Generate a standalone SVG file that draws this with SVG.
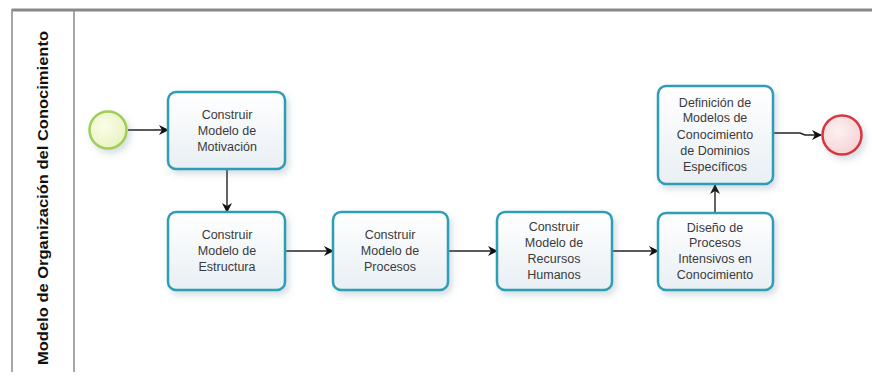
<svg xmlns="http://www.w3.org/2000/svg" width="872" height="376" viewBox="0 0 872 376">
<style>
.task{fill:url(#tg);stroke:#2f9db6;stroke-width:2.5;filter:url(#sh)}
.lbl{font-family:"Liberation Sans",Arial,sans-serif;font-size:12.5px;fill:#3a3a3a;text-anchor:middle}
.conn{stroke:#222;stroke-width:1.4;fill:none;marker-end:url(#ah)}
</style>
<defs>
<linearGradient id="tg" x1="0" y1="0" x2="0" y2="1">
<stop offset="0" stop-color="#ffffff"/>
<stop offset="1" stop-color="#e9eff4"/>
</linearGradient>
<radialGradient id="sg" cx="0.4" cy="0.4" r="0.7">
<stop offset="0" stop-color="#fbfde9"/>
<stop offset="1" stop-color="#e6f2bd"/>
</radialGradient>
<radialGradient id="eg" cx="0.4" cy="0.4" r="0.7">
<stop offset="0" stop-color="#fdf1f1"/>
<stop offset="1" stop-color="#f5d0d3"/>
</radialGradient>
<filter id="sh" x="-20%" y="-20%" width="150%" height="150%">
<feDropShadow dx="3" dy="4" stdDeviation="3" flood-color="#5a7a90" flood-opacity="0.25"/>
</filter>
<marker id="ah" markerWidth="10" markerHeight="10" refX="9" refY="5" orient="auto" markerUnits="userSpaceOnUse">
<path d="M0,0 L10,5 L0,10 L3,5 Z" fill="#111"/>
</marker>
</defs>
<rect width="872" height="376" fill="#ffffff"/>
<g id="pool">
<line x1="12" y1="10" x2="872" y2="10" stroke="#8a8a8a" stroke-width="3"/>
<line x1="12" y1="9" x2="12" y2="372" stroke="#8a8a8a" stroke-width="1.5"/>
<line x1="74" y1="10" x2="74" y2="372" stroke="#8a8a8a" stroke-width="1.5"/>
<text x="48" y="198" transform="rotate(-90 48 198)" font-family="'Liberation Sans',Arial,sans-serif" font-size="15px" font-weight="bold" fill="#111" text-anchor="middle" textLength="334" lengthAdjust="spacingAndGlyphs">Modelo de Organización del Conocimiento</text>
</g>
<g id="connectors">
<line class="conn" x1="128" y1="130" x2="168" y2="130"/>
<line class="conn" x1="227" y1="170" x2="227" y2="212"/>
<line class="conn" x1="286" y1="251" x2="333" y2="251"/>
<line class="conn" x1="449" y1="251" x2="497" y2="251"/>
<line class="conn" x1="613" y1="251" x2="658" y2="251"/>
<line class="conn" x1="715" y1="212" x2="715" y2="185"/>
<polyline class="conn" points="774,133 800,133 805,135 821,135"/>
</g>
<g id="start">
<circle cx="108" cy="130" r="18.5" fill="url(#sg)" stroke="#9fcd55" stroke-width="2.5" filter="url(#sh)"/>
</g>
<g id="t1">
<rect class="task" x="168" y="92" width="117" height="77" rx="8"/>
<text class="lbl" x="227" y="119">Construir</text>
<text class="lbl" x="227" y="135">Modelo de</text>
<text class="lbl" x="227" y="151">Motivación</text>
</g>
<g id="t2">
<rect class="task" x="168" y="212" width="117" height="78" rx="8"/>
<text class="lbl" x="227" y="239">Construir</text>
<text class="lbl" x="227" y="255">Modelo de</text>
<text class="lbl" x="227" y="271">Estructura</text>
</g>
<g id="t3">
<rect class="task" x="333" y="212" width="115" height="78" rx="8"/>
<text class="lbl" x="390" y="239">Construir</text>
<text class="lbl" x="390" y="255">Modelo de</text>
<text class="lbl" x="390" y="271">Procesos</text>
</g>
<g id="t4">
<rect class="task" x="497" y="212" width="115" height="78" rx="8"/>
<text class="lbl" x="554" y="231">Construir</text>
<text class="lbl" x="554" y="247">Modelo de</text>
<text class="lbl" x="554" y="263">Recursos</text>
<text class="lbl" x="554" y="279">Humanos</text>
</g>
<g id="t5">
<rect class="task" x="658" y="213" width="115" height="77" rx="8"/>
<text class="lbl" x="715" y="232">Diseño de</text>
<text class="lbl" x="715" y="247">Procesos</text>
<text class="lbl" x="715" y="263">Intensivos en</text>
<text class="lbl" x="715" y="279">Conocimiento</text>
</g>
<g id="t6">
<rect class="task" x="658" y="86" width="115" height="98" rx="8"/>
<text class="lbl" x="715" y="107">Definición de</text>
<text class="lbl" x="715" y="122">Modelos de</text>
<text class="lbl" x="715" y="139">Conocimiento</text>
<text class="lbl" x="715" y="155">de Dominios</text>
<text class="lbl" x="715" y="171">Específicos</text>
</g>
<g id="end">
<circle cx="842" cy="135" r="19.5" fill="url(#eg)" stroke="#d9363e" stroke-width="2.5" filter="url(#sh)"/>
</g>
</svg>
